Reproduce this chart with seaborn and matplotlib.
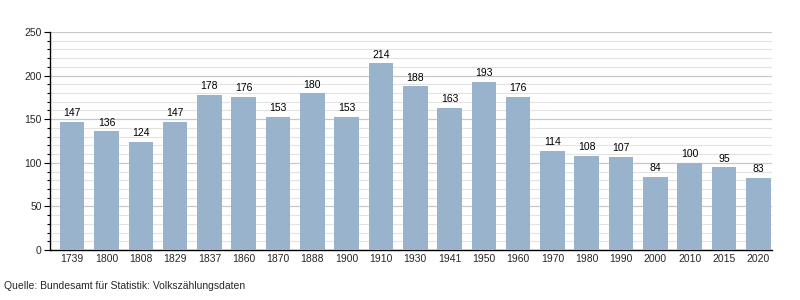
import matplotlib
matplotlib.use("Agg")
import matplotlib.pyplot as plt
import seaborn as sns
import pandas as pd
from matplotlib.ticker import MultipleLocator

years = ["1739", "1800", "1808", "1829", "1837", "1860", "1870", "1888", "1900", "1910",
         "1930", "1941", "1950", "1960", "1970", "1980", "1990", "2000", "2010", "2015", "2020"]
population = [147, 136, 124, 147, 178, 176, 153, 180, 153, 214,
              188, 163, 193, 176, 114, 108, 107, 84, 100, 95, 83]
source_text = "Quelle: Bundesamt für Statistik: Volkszählungsdaten"

sns.set_style("white")
plt.rcParams["font.family"] = ["Liberation Sans", "DejaVu Sans"]

df = pd.DataFrame({"year": years, "pop": population})

fig = plt.figure(figsize=(8, 3), dpi=100)
ax = fig.add_axes([50 / 800, 50 / 300, 722 / 800, 218 / 300])

sns.barplot(data=df, x="year", y="pop", color="#99b3cc", saturation=1, width=0.715,
            linewidth=0, edgecolor="none", ax=ax, zorder=3)

ax.set_ylim(0, 250)
ax.set_xlim(-0.647, len(years) - 1 + 0.40)
ax.yaxis.set_major_locator(MultipleLocator(50))
ax.yaxis.set_minor_locator(MultipleLocator(10))
ax.grid(which="major", axis="y", color="#c8c8c8", linewidth=0.9, zorder=0)
ax.grid(which="minor", axis="y", color="#e2e2e2", linewidth=0.8, zorder=0)
ax.set_axisbelow(True)

for s in ["top", "right"]:
    ax.spines[s].set_visible(False)
ax.spines["left"].set_color("black")
ax.spines["bottom"].set_color("black")
ax.spines["left"].set_linewidth(1.0)
ax.spines["bottom"].set_linewidth(1.0)

ax.tick_params(axis="y", which="major", length=4, width=0.8, color="black", labelsize=7.5, pad=2, left=True)
ax.tick_params(axis="y", which="minor", length=2.5, width=0.8, color="black", left=True)
ax.tick_params(axis="x", length=0, labelsize=7.5, pad=3)
ax.set_xlabel("")
ax.set_ylabel("")

for i, v in enumerate(population):
    ax.text(i, v + 4, str(v), ha="center", va="bottom", fontsize=7.5, color="black")

fig.text(0.005, 0.03, source_text, fontsize=7.5, ha="left", va="bottom")

fig.savefig("out.png", dpi=100)
